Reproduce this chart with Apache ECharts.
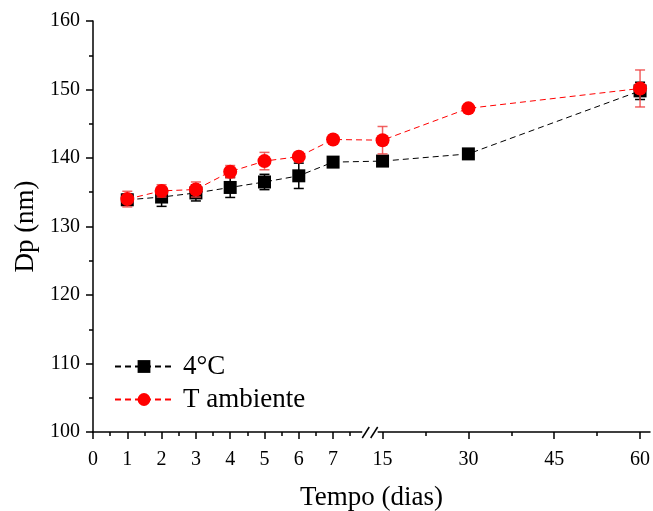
<!DOCTYPE html>
<html>
<head>
<meta charset="utf-8">
<script src="https://cdn.jsdelivr.net/npm/echarts@6/dist/echarts.min.js"></script>
<style>
  html, body { margin: 0; padding: 0; background: #fff; }
  #chart { width: 653px; height: 511px; }
</style>
</head>
<body>
<div id="chart"></div>
<script>
// ---- data ----
const days = [1, 2, 3, 4, 5, 6, 7, 15, 30, 60];
const dp4C = [133.9, 134.3, 134.9, 135.7, 136.5, 137.4, 139.4, 139.55, 140.6, 149.8];
const err4C = [0.8, 1.36, 1.17, 1.46, 1.12, 1.85, 0.3, 0.3, 0.3, 1.26];
const dpAmb = [134.0, 135.2, 135.4, 138.0, 139.55, 140.2, 142.7, 142.6, 147.25, 150.15];
const errAmb = [1.14, 0.9, 1.1, 0.9, 1.27, 0.6, 0.6, 2.0, 0.3, 2.7];
const xTickDays = [0, 1, 2, 3, 4, 5, 6, 7, 15, 30, 45, 60];
const xMinorDays = [0.5, 1.5, 2.5, 3.5, 4.5, 5.5, 6.5, 7.5, 22.5, 37.5, 52.5];
const seriesNames = ['4°C', 'T ambiente'];

// ---- broken axis scale: 0..8 linear, then 15..60 compressed ----
const SEG2_START = 8.442, SEG2_SLOPE = 0.16685;
function toAxis(d) { return d <= 8 ? d : SEG2_START + (d - 15) * SEG2_SLOPE; }
function fromAxis(t) { return t <= 8.2 ? t : 15 + (t - SEG2_START) / SEG2_SLOPE; }

const FONT = 'Liberation Serif';
const chart = echarts.init(document.getElementById('chart'), null, { renderer: 'canvas' });

function errData(vals, errs) {
  return days.map((d, i) => [toAxis(d), vals[i] - errs[i], vals[i] + errs[i]]);
}
function errRender(color) {
  return function (params, api) {
    const x = api.value(0);
    const lo = api.coord([x, api.value(1)]);
    const hi = api.coord([x, api.value(2)]);
    const w = 5;
    const style = { stroke: color, lineWidth: 1.5 };
    return {
      type: 'group',
      children: [
        { type: 'line', shape: { x1: lo[0], y1: lo[1], x2: hi[0], y2: hi[1] }, style },
        { type: 'line', shape: { x1: lo[0] - w, y1: lo[1], x2: lo[0] + w, y2: lo[1] }, style },
        { type: 'line', shape: { x1: hi[0] - w, y1: hi[1], x2: hi[0] + w, y2: hi[1] }, style }
      ]
    };
  };
}

const axisCommon = {
  type: 'value', min: 0, max: 16.24, gridIndex: 0,
  splitLine: { show: false }
};

chart.setOption({
  animation: false,
  backgroundColor: '#fff',
  grid: { left: 93, right: 3, top: 21, bottom: 79, containLabel: false, outerBoundsMode: 'none' },
  xAxis: [
    Object.assign({}, axisCommon, {
      position: 'bottom',
      name: 'Tempo (dias)', nameLocation: 'middle', nameGap: 52,
      nameTextStyle: { fontFamily: FONT, fontSize: 27, color: '#000' },
      axisLine: { show: true, lineStyle: { color: '#000', width: 1.5 } },
      axisTick: { show: true, inside: false, length: 7, lineStyle: { color: '#000', width: 1.5 },
                  customValues: xTickDays.map(toAxis) },
      axisLabel: { show: true, margin: 18, fontFamily: FONT, fontSize: 20, color: '#000',
                   customValues: xTickDays.map(toAxis),
                   formatter: v => String(Math.round(fromAxis(v))) }
    }),
    Object.assign({}, axisCommon, {
      position: 'bottom',
      axisLine: { show: false },
      axisTick: { show: true, inside: false, length: 4, lineStyle: { color: '#000', width: 1.5 },
                  customValues: xMinorDays.map(toAxis) },
      axisLabel: { show: false, customValues: xMinorDays.map(toAxis) }
    })
  ],
  yAxis: {
    type: 'value', min: 100, max: 160, interval: 10,
    name: 'Dp (nm)', nameLocation: 'middle', nameGap: 47,
    nameTextStyle: { fontFamily: FONT, fontSize: 27, color: '#000' },
    axisLine: { show: true, lineStyle: { color: '#000', width: 1.5 } },
    axisTick: { show: true, inside: false, length: 7, lineStyle: { color: '#000', width: 1.5 } },
    minorTick: { show: true, splitNumber: 2, length: 4, lineStyle: { color: '#000', width: 1.5 } },
    axisLabel: { margin: 13, fontFamily: FONT, fontSize: 20, color: '#000' },
    splitLine: { show: false }
  },
  legend: {
    orient: 'vertical', left: 109, top: 348, itemGap: 6,
    itemWidth: 58, itemHeight: 16,
    textStyle: { fontFamily: FONT, fontSize: 27, color: '#000', padding: [0, 0, 0, 5] },
    data: seriesNames
  },
  series: [
    {
      type: 'custom', name: 'err4C', z: 1, renderItem: errRender('#000'),
      data: errData(dp4C, err4C), encode: { x: 0, y: [1, 2] }, silent: true
    },
    {
      type: 'line', name: seriesNames[0], z: 2,
      data: days.map((d, i) => [toAxis(d), dp4C[i]]),
      symbol: 'rect', symbolSize: 13,
      itemStyle: { color: '#000' },
      lineStyle: { color: '#000', width: 1, type: [6, 4] }
    },
    {
      type: 'custom', name: 'errAmb', z: 3, renderItem: errRender('rgba(238,70,70,0.85)'),
      data: errData(dpAmb, errAmb), encode: { x: 0, y: [1, 2] }, silent: true
    },
    {
      type: 'line', name: seriesNames[1], z: 4,
      data: days.map((d, i) => [toAxis(d), dpAmb[i]]),
      symbol: 'circle', symbolSize: 14,
      itemStyle: { color: '#ff0000' },
      lineStyle: { color: '#ff0000', width: 1, type: [6, 4] }
    }
  ]
});

// ---- axis break marks ("//") placed through the axis scale ----
const yAx = chart.convertToPixel({ yAxisIndex: 0 }, 100);
const gx0 = chart.convertToPixel({ xAxisIndex: 0 }, 7.85);
const gx1 = chart.convertToPixel({ xAxisIndex: 0 }, 8.3);
chart.setOption({
  graphic: [
    { type: 'rect', shape: { x: gx0, y: yAx - 3, width: gx1 - gx0, height: 6 }, style: { fill: '#fff' }, z: 100 },
    { type: 'line', shape: { x1: gx0, y1: yAx + 6, x2: gx0 + 7, y2: yAx - 5 }, style: { stroke: '#000', lineWidth: 1.5 }, z: 101 },
    { type: 'line', shape: { x1: gx1 - 7, y1: yAx + 6, x2: gx1, y2: yAx - 5 }, style: { stroke: '#000', lineWidth: 1.5 }, z: 101 }
  ]
});
</script>
</body>
</html>
